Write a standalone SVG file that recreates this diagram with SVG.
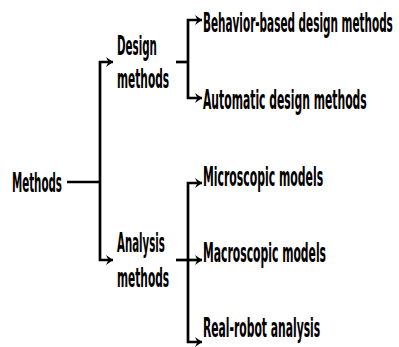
<svg xmlns="http://www.w3.org/2000/svg" width="399" height="347" viewBox="0 0 399 347">
<defs>
<marker id="ah" markerWidth="10" markerHeight="12" refX="8" refY="6" orient="auto" markerUnits="userSpaceOnUse">
<path d="M1,1 L8,6 L1,11 L3.5,6 Z" fill="#000"/>
</marker>
<style>
text{font-family:"DejaVu Sans","Liberation Sans",sans-serif;font-weight:bold;font-size:27px;fill:#000}
.c{fill:none;stroke:#000;stroke-width:2.7}
.a{marker-end:url(#ah)}
</style>
</defs>
<rect width="399" height="347" fill="#fff"/>
<g id="connectors">
<path class="c" d="M67,182 H100"/>
<path class="c a" d="M100,182 V62 H113"/>
<path class="c a" d="M100,182 V260 H113"/>
<path class="c" d="M176,62 H188"/>
<path class="c a" d="M188,62 V20 H202"/>
<path class="c a" d="M188,62 V98 H202"/>
<path class="c a" d="M176,260 H202"/>
<path class="c a" d="M188,260 V183 H202"/>
<path class="c a" d="M188,260 V342 H202"/>
</g>
<g id="methods"><text transform="translate(12,192) scale(0.42,1)" textLength="119" lengthAdjust="spacingAndGlyphs">Methods</text></g>
<g id="design"><text transform="translate(117,55) scale(0.42,1)" textLength="95" lengthAdjust="spacingAndGlyphs">Design</text><text transform="translate(117,88) scale(0.42,1)" textLength="124" lengthAdjust="spacingAndGlyphs">methods</text></g>
<g id="analysis"><text transform="translate(117,252) scale(0.42,1)" textLength="114" lengthAdjust="spacingAndGlyphs">Analysis</text><text transform="translate(117,287) scale(0.42,1)" textLength="124" lengthAdjust="spacingAndGlyphs">methods</text></g>
<g id="behavior"><text transform="translate(203,32) scale(0.42,1)" textLength="452" lengthAdjust="spacingAndGlyphs">Behavior-based design methods</text></g>
<g id="automatic"><text transform="translate(203,109) scale(0.42,1)" textLength="390" lengthAdjust="spacingAndGlyphs">Automatic design methods</text></g>
<g id="micro"><text transform="translate(203,186) scale(0.42,1)" textLength="286" lengthAdjust="spacingAndGlyphs">Microscopic models</text></g>
<g id="macro"><text transform="translate(203,262) scale(0.42,1)" textLength="293" lengthAdjust="spacingAndGlyphs">Macroscopic models</text></g>
<g id="real"><text transform="translate(203,337) scale(0.42,1)" textLength="279" lengthAdjust="spacingAndGlyphs">Real-robot analysis</text></g>
</svg>
